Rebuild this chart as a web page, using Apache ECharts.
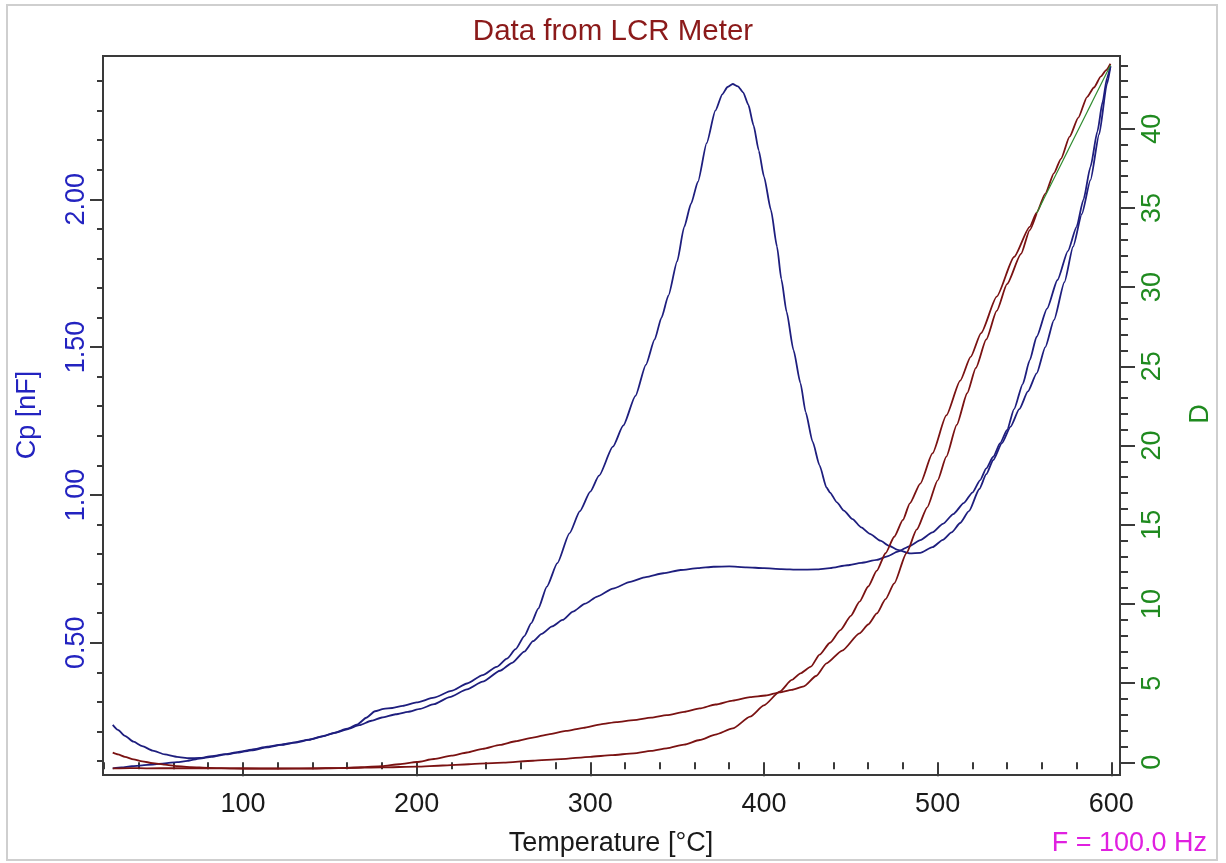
<!DOCTYPE html>
<html>
<head>
<meta charset="utf-8">
<script src="https://cdn.jsdelivr.net/npm/echarts@6/dist/echarts.min.js"></script>
<style>
  html, body { margin: 0; padding: 0; background: #ffffff; }
  #chart { width: 1226px; height: 863px; }
</style>
</head>
<body>
<div id="chart"></div>
<script>
// ---------- data ----------
const tempMinorTicks = [20,40,60,80,100,120,140,160,180,200,220,240,260,280,300,320,340,360,380,400,420,440,460,480,500,520,540,560,580,600];
const tempLabels = [100,200,300,400,500,600];
const cpMajorTicks = [0.5,1.0,1.5,2.0];
const cpMinorTicks = [0.1,0.2,0.3,0.4,0.5,0.6,0.7,0.8,0.9,1.0,1.1,1.2,1.3,1.4,1.5,1.6,1.7,1.8,1.9,2.0,2.1,2.2,2.3,2.4];
const dMajorTicks = [0,5,10,15,20,25,30,35,40];
const dMinorTicks = [0,1,2,3,4,5,6,7,8,9,10,11,12,13,14,15,16,17,18,19,20,21,22,23,24,25,26,27,28,29,30,31,32,33,34,35,36,37,38,39,40,41,42,43,44];

// Cp [nF] vs temperature, curve with the peak
const cpPeak = [[25,0.075],[30,0.078],[36,0.082],[42,0.085],[48,0.088],[55,0.092],[62,0.096],[68,0.100],[75,0.108],[82,0.114],[90,0.122],[97,0.128],[105,0.136],[114,0.146],[122,0.154],[130,0.162],[138,0.171],[146,0.183],[153,0.196],[160,0.209],[166,0.224],[171,0.246],[176,0.268],[181,0.276],[186,0.279],[192,0.286],[200,0.298],[210,0.314],[220,0.337],[229,0.362],[238,0.390],[246,0.418],[252,0.446],[257,0.478],[262,0.522],[266,0.566],[270,0.615],[275,0.690],[281,0.769],[288,0.870],[294,0.945],[300,1.011],[305,1.065],[313,1.163],[319,1.235],[326,1.335],[332,1.440],[337,1.525],[341,1.600],[345,1.675],[350,1.790],[354,1.905],[358,1.985],[362,2.060],[367,2.190],[372,2.300],[376,2.355],[379,2.380],[382,2.390],[385,2.382],[388,2.362],[391,2.320],[394,2.250],[397,2.165],[400,2.077],[404,1.964],[407.5,1.840],[410,1.730],[413,1.620],[417,1.490],[421,1.378],[424,1.280],[428,1.180],[432,1.100],[436,1.025],[438,1.008],[442,0.975],[446,0.947],[451,0.918],[456,0.890],[461,0.868],[467,0.845],[472,0.828],[477,0.814],[484,0.802],[490,0.804],[497,0.823],[503,0.848],[508,0.873],[513,0.905],[518,0.945],[524,1.020],[528,1.070],[532,1.118],[537,1.175],[542,1.231],[547,1.290],[552,1.350],[557,1.411],[562,1.500],[567,1.592],[573,1.720],[578,1.840],[583,1.950],[588,2.065],[593,2.220],[597.5,2.390],[599.5,2.450]];

// Cp [nF] vs temperature, curve with the plateau
const cpPlateau = [[25,0.222],[28,0.205],[32,0.185],[37,0.165],[42,0.150],[48,0.135],[55,0.122],[62,0.114],[69,0.109],[75,0.110],[82,0.116],[90,0.123],[97,0.130],[105,0.138],[114,0.148],[122,0.155],[130,0.163],[138,0.172],[146,0.184],[153,0.195],[160,0.207],[167,0.221],[174,0.236],[180,0.247],[188,0.258],[195,0.266],[202,0.276],[210,0.292],[219,0.316],[229,0.342],[238,0.368],[248,0.405],[255,0.432],[262,0.470],[267,0.505],[272,0.530],[278,0.555],[284,0.577],[290,0.605],[297,0.632],[304,0.656],[313,0.683],[323,0.706],[332,0.722],[342,0.735],[352,0.746],[362,0.752],[371,0.757],[380,0.758],[390,0.755],[400,0.752],[410,0.749],[420,0.747],[430,0.748],[438,0.752],[448,0.762],[456,0.770],[465,0.780],[471,0.792],[477,0.808],[484,0.827],[490,0.847],[497,0.873],[503,0.902],[509,0.935],[515,0.972],[520,1.008],[524.5,1.050],[528,1.090],[532,1.129],[536,1.175],[540,1.220],[544,1.290],[549,1.375],[553,1.455],[557,1.535],[563,1.630],[569,1.727],[575,1.825],[580,1.907],[584,2.000],[588,2.110],[592,2.230],[595,2.330],[597.5,2.410],[599.5,2.450]];

// D vs temperature, curve starting high
const dUpperStart = [[25,0.61],[28,0.50],[32,0.35],[37,0.19],[42,0.06],[48,-0.05],[55,-0.15],[62,-0.24],[70,-0.30],[80,-0.35],[95,-0.38],[110,-0.40],[125,-0.40],[140,-0.39],[155,-0.36],[168,-0.31],[180,-0.24],[190,-0.12],[200,0.02],[210,0.21],[220,0.42],[229,0.62],[238,0.85],[248,1.10],[257,1.33],[267,1.56],[276,1.77],[286,1.98],[296,2.18],[306,2.40],[315,2.54],[325,2.67],[335,2.82],[344,2.98],[354,3.18],[363,3.40],[372,3.65],[382,3.90],[392,4.12],[401,4.22],[409,4.42],[416,4.58],[423,4.80],[430,5.45],[436,6.25],[445,7.05],[455,8.14],[460,8.70],[465,9.40],[470,10.30],[475,11.30],[482,13.20],[488,14.70],[494,16.10],[500,17.80],[505,19.30],[511,21.30],[517,23.30],[522,24.90],[528,26.70],[534,28.50],[540,30.20],[548,32.10],[553,33.60],[557,34.66]];

// D vs temperature, curve starting low
const dLowerStart = [[25,-0.38],[35,-0.36],[45,-0.38],[60,-0.37],[80,-0.38],[100,-0.39],[120,-0.39],[140,-0.38],[160,-0.36],[180,-0.32],[200,-0.27],[215,-0.20],[230,-0.12],[250,-0.02],[267,0.10],[283,0.20],[300,0.35],[312,0.45],[325,0.57],[335,0.72],[344,0.88],[354,1.12],[363,1.41],[372,1.75],[382,2.14],[392,2.88],[400,3.60],[409,4.46],[416,5.20],[421,5.62],[427,6.04],[432,6.80],[438,7.55],[444,8.35],[450,9.25],[455,10.14],[460,11.10],[465,12.10],[470,13.20],[475,14.24],[480,15.30],[484,16.35],[490,17.60],[497,19.50],[505,21.90],[513,24.10],[519,25.60],[525,27.10],[534,29.40],[544,31.90],[553,33.80],[557,34.70],[562,35.90],[567,37.20],[571,38.10],[576,39.50],[581,40.70],[586,42.00],[590,42.60],[594,43.30],[597,43.70],[599.5,44.10]];

// green connecting segment on the D axis
const dGreen = [[557,34.66],[599.5,44.0]];

// ---------- chart ----------
const FONT = "'Liberation Sans', Arial, sans-serif";
const X_MIN = 19.4, X_MAX = 605;
const CP_MIN = 0.0524, CP_MAX = 2.4848;
const D_MIN = -0.80, D_MAX = 44.59;
const BLUE_TXT = '#2323c0';
const GREEN_TXT = '#1f8a1f';
const AXIS_C = '#3a3a3a';

const chart = echarts.init(document.getElementById('chart'), null, { renderer: 'canvas' });

function xAxisDef(ticks, len, labels) {
  return {
    type: 'value', position: 'bottom', min: X_MIN, max: X_MAX,
    axisLine: { show: false },
    splitLine: { show: false },
    axisTick: { show: true, customValues: ticks, length: len, lineStyle: { color: AXIS_C, width: 2 } },
    axisLabel: labels ? { show: true, customValues: labels, fontSize: 27, fontFamily: FONT, color: '#1a1a1a', margin: 16 } : { show: false }
  };
}
function yAxisDef(pos, min, max, ticks, len, labels, color, fmt, margin) {
  return {
    type: 'value', position: pos, min: min, max: max,
    axisLine: { show: false },
    splitLine: { show: false },
    axisTick: { show: true, customValues: ticks, length: len, lineStyle: { color: AXIS_C, width: 2 } },
    axisLabel: labels ? { show: true, customValues: labels, rotate: 90, fontSize: 27, fontFamily: FONT, color: color, margin: margin, formatter: fmt } : { show: false }
  };
}

const lineBase = { type: 'line', showSymbol: false, symbol: 'none', animation: false, smooth: 0.2, smoothMonotone: 'x' };

chart.setOption({
  backgroundColor: '#ffffff',
  animation: false,
  title: {
    text: 'Data from LCR Meter', left: 'center', top: 12,
    textStyle: { fontSize: 29.5, fontWeight: 'normal', fontFamily: FONT, color: '#8b1a1a' }
  },
  grid: {
    left: 103, right: 106, top: 56, bottom: 88,
    show: true, borderColor: AXIS_C, borderWidth: 2, backgroundColor: 'transparent',
    containLabel: false, outerBoundsMode: 'none'
  },
  xAxis: [
    xAxisDef(tempLabels, 14, tempLabels),
    xAxisDef(tempMinorTicks, 7, null)
  ],
  yAxis: [
    yAxisDef('left', CP_MIN, CP_MAX, cpMajorTicks, 13, cpMajorTicks, BLUE_TXT, v => v.toFixed(2), 13),
    yAxisDef('left', CP_MIN, CP_MAX, cpMinorTicks, 6, null),
    yAxisDef('right', D_MIN, D_MAX, dMajorTicks, 15, dMajorTicks, GREEN_TXT, v => String(v), 19),
    yAxisDef('right', D_MIN, D_MAX, dMinorTicks, 8, null)
  ],
  series: [
    Object.assign({}, lineBase, { name: 'Cp plateau', xAxisIndex: 0, yAxisIndex: 0, data: cpPlateau, lineStyle: { color: '#1e1e7e', width: 1.8 } }),
    Object.assign({}, lineBase, { name: 'Cp peak', xAxisIndex: 0, yAxisIndex: 0, data: cpPeak, lineStyle: { color: '#1e1e7e', width: 1.8 } }),
    Object.assign({}, lineBase, { name: 'D upper start', xAxisIndex: 0, yAxisIndex: 2, data: dUpperStart, lineStyle: { color: '#7a1212', width: 1.8 } }),
    Object.assign({}, lineBase, { name: 'D lower start', xAxisIndex: 0, yAxisIndex: 2, data: dLowerStart, lineStyle: { color: '#7a1212', width: 1.8 } }),
    Object.assign({}, lineBase, { name: 'D segment', xAxisIndex: 0, yAxisIndex: 2, data: dGreen, smooth: false, lineStyle: { color: '#2e8b2e', width: 1.2 } })
  ],
  graphic: [
    { type: 'rect', silent: true, z: -10, shape: { x: 7, y: 5, width: 1210, height: 855 }, style: { fill: 'none', stroke: '#cfcfcf', lineWidth: 2 } },
    { type: 'text', silent: true, x: 28, y: 415, rotation: Math.PI / 2, style: { text: 'Cp [nF]', font: '27px ' + FONT, fill: BLUE_TXT, align: 'center', verticalAlign: 'middle' } },
    { type: 'text', silent: true, x: 1201, y: 414, rotation: Math.PI / 2, style: { text: 'D', font: '27px ' + FONT, fill: GREEN_TXT, align: 'center', verticalAlign: 'middle' } },
    { type: 'text', silent: true, x: 611, y: 844, style: { text: 'Temperature [°C]', font: '27px ' + FONT, fill: '#1a1a1a', align: 'center', verticalAlign: 'middle' } },
    { type: 'text', silent: true, x: 1207, y: 844, style: { text: 'F = 100.0 Hz', font: '27px ' + FONT, fill: '#e020e0', align: 'right', verticalAlign: 'middle' } }
  ]
});
</script>
</body>
</html>
